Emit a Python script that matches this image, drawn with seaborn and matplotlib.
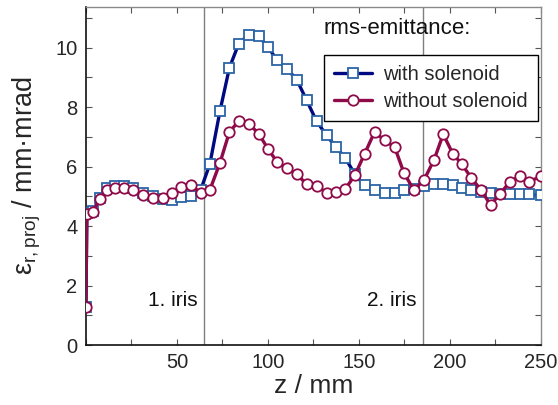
import matplotlib
matplotlib.use("Agg")
import matplotlib.pyplot as plt
from matplotlib.ticker import MultipleLocator
import seaborn as sns
import pandas as pd

# Axial positions of the simulation output (mm)
z_mm = [0.0, 0.5, 3.8, 7.7, 11.7, 16.1, 20.9, 26.0, 31.5, 36.6,
        42.1, 47.3, 52.4, 57.9, 63.0, 68.1, 73.6, 78.8, 83.9, 89.4,
        94.9, 100.0, 105.1, 110.3, 115.8, 121.2, 126.7, 132.2, 137.4, 142.5,
        147.8, 153.1, 158.6, 164.1, 169.6, 174.7, 180.2, 185.7, 191.2, 196.3,
        201.5, 206.6, 211.7, 217.0, 222.3, 227.6, 232.9, 238.2, 243.5, 250.0]

# Projected rms emittance (mm mrad)
eps_with = [1.29, 4.43, 4.50, 4.94, 5.27, 5.34, 5.34, 5.27, 5.13, 5.01,
            4.92, 4.88, 4.97, 5.02, 5.21, 6.09, 7.86, 9.32, 10.13, 10.44,
            10.40, 10.02, 9.58, 9.30, 8.93, 8.24, 7.53, 7.05, 6.66, 6.29,
            5.74, 5.37, 5.23, 5.13, 5.13, 5.20, 5.26, 5.36, 5.41, 5.42,
            5.38, 5.27, 5.21, 5.15, 5.12, 5.08, 5.08, 5.08, 5.07, 5.03]

eps_without = [1.29, 4.42, 4.49, 4.92, 5.21, 5.29, 5.29, 5.20, 5.04, 4.94,
               4.93, 5.11, 5.33, 5.37, 5.12, 5.22, 6.12, 7.16, 7.53, 7.45,
               7.11, 6.60, 6.15, 5.94, 5.75, 5.41, 5.36, 5.12, 5.16, 5.25,
               5.72, 6.43, 7.17, 6.88, 6.66, 5.79, 5.21, 5.55, 6.22, 7.09,
               6.44, 6.08, 5.62, 5.22, 4.71, 5.09, 5.49, 5.68, 5.49, 5.68]

series_labels = ["with solenoid", "without solenoid"]
iris_z = [65, 185]
iris_labels = ["1. iris", "2. iris"]
x_ticks = [50, 100, 150, 200, 250]
y_ticks = [0, 2, 4, 6, 8, 10]

df_with = pd.DataFrame({"z": z_mm, "eps": eps_with})
df_without = pd.DataFrame({"z": z_mm, "eps": eps_without})

sns.set_style("ticks")
plt.rcParams["font.family"] = ["Liberation Sans", "DejaVu Sans"]
plt.rcParams["mathtext.fontset"] = "custom"
plt.rcParams["mathtext.rm"] = "Liberation Sans"

fig = plt.figure(figsize=(5.58, 4.05), dpi=100)
ax = fig.add_axes([0.154, 0.148, 0.8155, 0.8355])

blue_line = "#000a80"
blue_edge = "#2a64a8"
red = "#8e0a48"

# iris positions
for zi in iris_z:
    ax.axvline(zi, color="#7f7f7f", lw=1.0, zorder=1)

sns.lineplot(data=df_with, x="z", y="eps", ax=ax, color=blue_line, lw=2.4,
             marker="s", markersize=7.5, markerfacecolor="white",
             markeredgecolor=blue_edge, markeredgewidth=1.3,
             label=series_labels[0], zorder=3)
sns.lineplot(data=df_without, x="z", y="eps", ax=ax, color=red, lw=2.4,
             marker="o", markersize=7.5, markerfacecolor="white",
             markeredgecolor=red, markeredgewidth=1.3,
             label=series_labels[1], zorder=4)

for zi, txt in zip(iris_z, iris_labels):
    ax.text(zi - 3.5, 1.5, txt, ha="right", va="center", fontsize=15,
            color="#111111")

ax.set_xlim(0, 250)
ax.set_ylim(0, 11.38)
ax.set_xticks(x_ticks)
ax.set_yticks(y_ticks)
ax.xaxis.set_minor_locator(MultipleLocator(25))
ax.yaxis.set_minor_locator(MultipleLocator(1))
ax.tick_params(which="both", direction="in", top=True, right=True,
               length=4, width=0.8, color="#555555", labelsize=14.5,
               pad=6)

for side in ("left", "bottom"):
    ax.spines[side].set_color("#111111")
    ax.spines[side].set_linewidth(1.2)
for side in ("top", "right"):
    ax.spines[side].set_color("#8a8a8a")
    ax.spines[side].set_linewidth(1.0)

ax.set_xlabel("z / mm", fontsize=19, labelpad=1)
ax.set_ylabel("$\\mathregular{ε_{r,proj}}$ / mm·mrad", fontsize=19.5,
              labelpad=9)

leg = ax.legend(loc="upper left", bbox_to_anchor=(0.523, 0.857),
                fontsize=14.5, frameon=True, fancybox=False,
                edgecolor="black", framealpha=1, handlelength=1.9,
                handletextpad=0.55, borderpad=0.5, labelspacing=0.4,
                borderaxespad=0)
leg.get_frame().set_linewidth(1.0)

ax.text(0.523, 0.935, "rms-emittance:", transform=ax.transAxes,
        ha="left", va="center", fontsize=16, color="#111111")

fig.savefig("out.png", dpi=100)
